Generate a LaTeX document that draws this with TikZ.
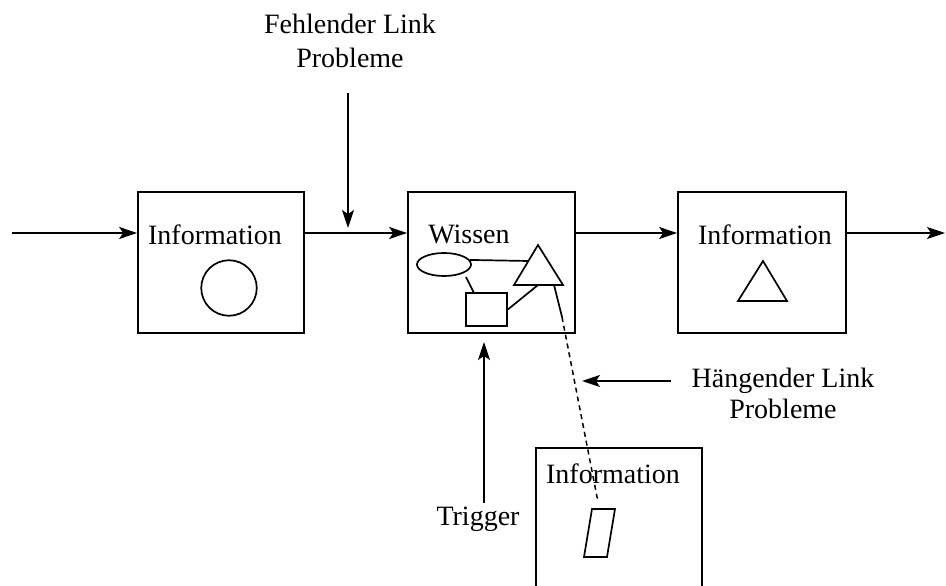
\documentclass[tikz,border=0pt]{standalone}
\usepackage{fontspec}
\setmainfont{Liberation Serif}
\usetikzlibrary{arrows.meta,shapes.geometric,calc}
\tikzset{
  box/.style={draw,line width=1.7pt,rectangle,inner sep=0pt},
  arr/.style={line width=1.7pt,-{Stealth[length=18pt,width=12pt,inset=4pt]}},
  ln/.style={line width=1.7pt},
  lbl/.style={font=\fontsize{28}{34}\selectfont,inner sep=0pt,anchor=base},
  dashlink/.style={line width=1.5pt,dash pattern=on 5pt off 4pt}
}
\begin{document}
\begin{tikzpicture}[x=1pt,y=-1pt]
\clip (0,0) rectangle (946,586);
\fill[white] (0,0) rectangle (946,586);
% boxes
\node[box,minimum width=166pt,minimum height=141pt] (b1) at (221,262.5) {};
\node[box,minimum width=167pt,minimum height=141pt] (b2) at (491.5,262.5) {};
\node[box,minimum width=168pt,minimum height=141pt] (b3) at (762,262.5) {};
\node[box,minimum width=166pt,minimum height=180pt] (b4) at (619,538) {};
% texts
\node[lbl] (t1) at (215,244) {Information};
\node[lbl] (t2) at (469,243) {Wissen};
\node[lbl] (t3) at (765,244) {Information};
\node[lbl] (t4) at (613,483) {Information};
\node[lbl,align=center] (fl) at (350,67) {Fehlender Link\\Probleme};
\node[lbl,align=center,font=\fontsize{28}{31}\selectfont] (hl) at (783,418) {Hängender Link\\Probleme};
\node[lbl] (tr) at (478,525) {Trigger};
% main flow
\coordinate (in) at (12,233);
\coordinate (out) at (945,233);
\draw[arr] (in) -- (b1.west |- in);
\draw[arr] (b1.east |- in) -- (b2.west |- in);
\draw[arr] (b2.east |- in) -- (b3.west |- in);
\draw[arr] (b3.east |- in) -- (out);
% Fehlender Link arrow
\coordinate (fs) at (348,93);
\coordinate (fe) at (348,228);
\draw[arr] (fs) -- (fe);
% Trigger arrow
\coordinate (ts) at (484,503);
\coordinate (te) at (484,342);
\draw[arr] (ts) -- (te);
% Haengender Link arrow
\coordinate (hs) at (671,381);
\coordinate (he) at (582,381);
\draw[arr] (hs) -- (he);
% box 1 circle
\node[draw,ln,circle,minimum size=55.5pt,inner sep=0pt] (c1) at (229,288) {};
% box 3 triangle
\draw[ln,line join=miter] (763,261) -- (787,301) -- (738,301) -- cycle;
% box 2 contents
\node[draw,ln,ellipse,minimum width=54pt,minimum height=23pt,inner sep=0pt] (el) at (444,264.5) {};
\node[draw,ln,rectangle,minimum width=41pt,minimum height=33pt,inner sep=0pt] (rb) at (486.5,309.5) {};
\coordinate (ta) at (538,245);
\coordinate (tl) at (514,285);
\coordinate (tb) at (563,285);
\draw[ln,line join=miter] (ta) -- (tb) -- (tl) -- cycle;
\coordinate (tlp) at (528.5,261);
\draw[ln] (el.10) -- (tlp);
\coordinate (es) at (466,277);
\coordinate (rt) at (474,293);
\draw[ln] (es) -- (rt);
\coordinate (tbase) at (538,285);
\draw[ln] (rb.east) -- (tbase);
\coordinate (tr1) at (554,285);
\coordinate (tr2) at (562,317);
\draw[ln] (tr1) -- (tr2);
\coordinate (pd) at (598,502);
\draw[dashlink] (tr2) -- (pd);
% parallelogram in box 4
\draw[ln,line join=miter] (592,509) -- (615,509) -- (607,557) -- (584,557) -- cycle;
\end{tikzpicture}
\end{document}
